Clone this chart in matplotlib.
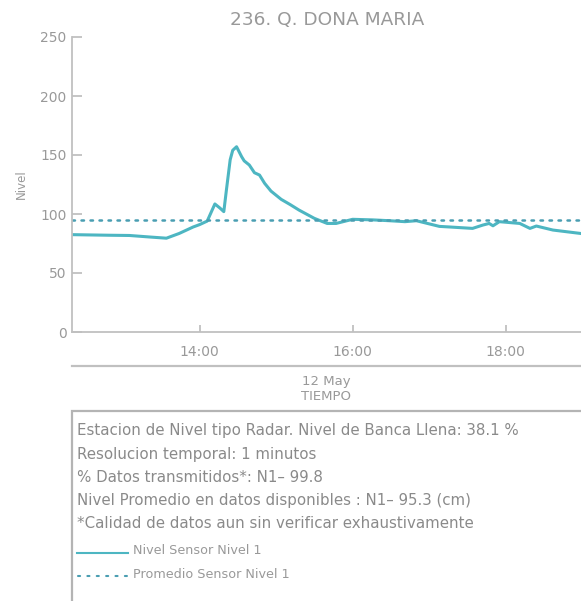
"""
Nivel en la estacion 236. Q. DONA MARIA, 12 de mayo.
"""

from pandas import to_datetime
from matplotlib import pyplot as plt
from matplotlib.dates import HourLocator, DateFormatter
from matplotlib.lines import Line2D
from matplotlib.patches import Rectangle

DAY = "2025-05-12"

# hora y nivel
TIMES = [
    "12:20", "12:49", "13:05", "13:21", "13:34", "13:44", "13:55", "14:00",
    "14:06", "14:12", "14:16", "14:19", "14:21", "14:24", "14:26", "14:29",
    "14:33", "14:35", "14:39", "14:43", "14:47", "14:51", "14:56", "15:04",
    "15:11", "15:18", "15:30", "15:40", "15:47", "16:00", "16:16", "16:29",
    "16:41", "16:50", "17:08", "17:16", "17:34", "17:42", "17:47", "17:50",
    "17:55", "18:11", "18:19", "18:24", "18:37", "18:58",
]
NIVEL = [
    82.5, 82.0, 81.8, 80.5, 79.5, 83.5, 89.0, 91.0,
    94.0, 108.5, 105.0, 102.0, 120.0, 146.0, 154.0, 157.0,
    148.5, 145.0, 141.5, 135.0, 133.0, 126.0, 119.4, 112.4,
    108.0, 103.3, 96.3, 92.0, 92.0, 95.5, 95.0, 94.3,
    93.5, 94.3, 89.5, 89.0, 87.8, 90.6, 92.0, 90.0,
    93.5, 92.0, 87.8, 89.8, 86.4, 83.6,
]
PROMEDIO = 95.3
Y_TICKS = [0, 50, 100, 150, 200, 250]

TITLE = "236. Q. DONA MARIA"
INFO_LINES = [
    "Estacion de Nivel tipo Radar. Nivel de Banca Llena: 38.1 %",
    "Resolucion temporal: 1 minutos",
    "% Datos transmitidos*: N1\u2013 99.8",
    "Nivel Promedio en datos disponibles : N1\u2013 95.3 (cm)",
    "*Calidad de datos aun sin verificar exhaustivamente",
]
LEGEND_LABELS = ["Nivel Sensor Nivel 1", "Promedio Sensor Nivel 1"]

W, H = 581, 601
TEAL = "#4db6c2"
DOT = "#4a9eb2"
GRAY = "#999999"
TEXT = "#8a8a8a"
SPINE = "#c0c0c0"


def fx(px: float) -> float:
    return px / W


def fy(py: float) -> float:
    return 1 - py / H


def plot() -> None:
    plt.rcParams["font.family"] = ["DejaVu Sans"]
    times = to_datetime([f"{DAY} {t}" for t in TIMES])

    fig = plt.figure(figsize=(W / 100, H / 100), dpi=100)
    ax = fig.add_axes([fx(72), fy(332), 1 - fx(72), fy(37) - fy(332)])

    ax.plot(times, NIVEL, color=TEAL, linewidth=2.2, solid_joinstyle="round")
    ax.axhline(PROMEDIO, color=DOT, linewidth=1.8, dashes=(1, 2.6),
               dash_capstyle="round")

    ax.set_xlim(to_datetime(f"{DAY} 12:20"), to_datetime(f"{DAY} 18:59"))
    ax.set_ylim(0, 250)
    ax.set_yticks(Y_TICKS)
    ax.xaxis.set_major_locator(HourLocator(byhour=[14, 16, 18]))
    ax.xaxis.set_major_formatter(DateFormatter("%H:%M"))

    for side in ["top", "right"]:
        ax.spines[side].set_visible(False)
    for side in ["left", "bottom"]:
        ax.spines[side].set_color(SPINE)
        ax.spines[side].set_linewidth(1.3)
    ax.tick_params(axis="y", direction="in", length=7, width=1.3,
                   color=SPINE, labelcolor=GRAY, labelsize=10, pad=4)
    ax.tick_params(axis="x", direction="in", length=5, width=1.3,
                   color=SPINE, labelcolor=GRAY, labelsize=10, pad=9)
    ax.set_ylabel("Nivel", color=GRAY, fontsize=8.5, labelpad=9)

    fig.text(fx(327), fy(20), TITLE, color=GRAY, fontsize=13.3,
             ha="center", va="center")

    # separador y etiqueta del eje de tiempo
    fig.add_artist(Line2D([fx(72), 1], [fy(366), fy(366)], color=SPINE,
                          linewidth=1.6))
    fig.text(fx(326), fy(381), "12 May", color=GRAY, fontsize=9.5,
             ha="center", va="center")
    fig.text(fx(326), fy(397), "TIEMPO", color=GRAY, fontsize=9.5,
             ha="center", va="center")

    # cuadro de informacion
    fig.add_artist(Rectangle((fx(71.5), -0.02), 1.05 - fx(71.5),
                             fy(411) + 0.02, fill=False, edgecolor="#b4b4b4",
                             linewidth=1.6))
    for i, line in enumerate(INFO_LINES):
        fig.text(fx(77), fy(431 + 23 * i), line, color=TEXT,
                 fontsize=10.8, ha="left", va="center")
    fig.add_artist(Line2D([fx(77), fx(128)], [fy(553), fy(553)], color=TEAL,
                          linewidth=1.5))
    fig.add_artist(Line2D([fx(78), fx(128)], [fy(576), fy(576)], color=DOT,
                          linewidth=1.5, dashes=(1, 3.5),
                          dash_capstyle="round"))
    fig.text(fx(133), fy(551), LEGEND_LABELS[0], color=GRAY,
             fontsize=9.2, ha="left", va="center")
    fig.text(fx(133), fy(574), LEGEND_LABELS[1], color=GRAY,
             fontsize=9.2, ha="left", va="center")

    fig.savefig("out.png", dpi=100)


if __name__ == "__main__":
    plot()
